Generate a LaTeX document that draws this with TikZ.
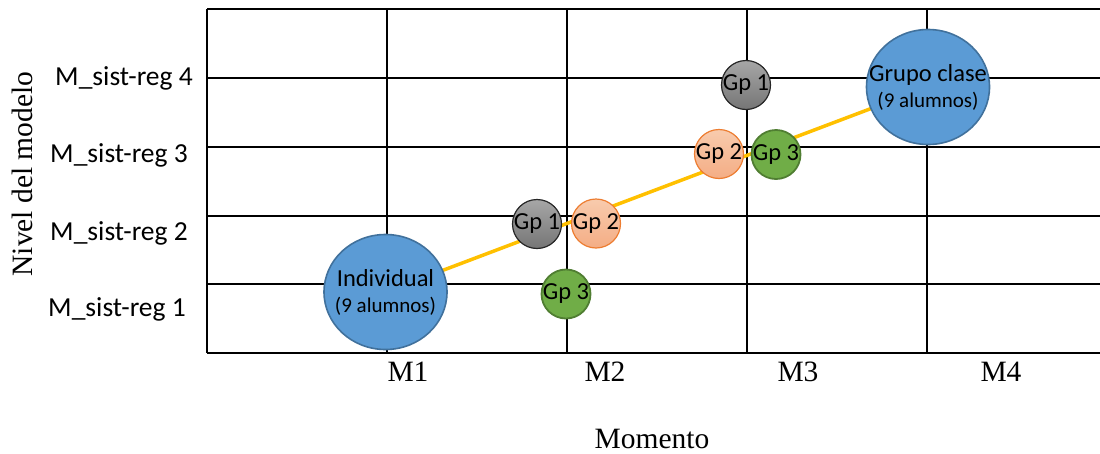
\documentclass[tikz,border=0pt]{standalone}
\usepackage{fontspec}
\setmainfont{Liberation Serif}
\newfontfamily\calibfont{Carlito}
\usetikzlibrary{backgrounds,shapes.geometric}
\definecolor{bubblue}{HTML}{5B9BD5}
\definecolor{bubblueline}{HTML}{41719C}
\definecolor{grtop}{HTML}{A6A6A6}
\definecolor{grbot}{HTML}{767676}
\definecolor{grline}{HTML}{262626}
\definecolor{ortop}{HTML}{F8CBAD}
\definecolor{orbot}{HTML}{F4AD85}
\definecolor{orline}{HTML}{ED7D31}
\definecolor{gnfill}{HTML}{70AD47}
\definecolor{gnline}{HTML}{507E32}
\definecolor{linkyellow}{HTML}{FFC000}
\tikzset{
  gridline/.style={line width=2pt, black},
  bigbub/.style={ellipse, minimum width=123pt, minimum height=115pt, inner sep=0pt,
    draw=bubblueline, line width=1.6pt, fill=bubblue},
  smallbub/.style={circle, minimum size=49pt, inner sep=0pt, line width=1.2pt},
  graybub/.style={smallbub, draw=grline, top color=grtop, bottom color=grbot},
  orangebub/.style={smallbub, draw=orline, top color=ortop, bottom color=orbot},
  greenbub/.style={smallbub, draw=gnline, line width=1.8pt, fill=gnfill},
  bubtext/.style={inner sep=0pt, align=center, font=\calibfont\fontsize{24.5}{27}\selectfont},
  ylab/.style={font=\calibfont\fontsize{27.5}{30}\selectfont},
  xlab/.style={inner sep=1pt, font=\fontsize{29.5}{32}\selectfont},
  linkline/.style={linkyellow, line width=3.5pt}
}
\begin{document}
\begin{tikzpicture}[x=1pt,y=-1pt]
\useasboundingbox (0,0) rectangle (1100,453);
% bubbles
\node[bigbub, label={[bubtext]center:Individual\\[-1pt]{\fontsize{21}{25}\selectfont(9 alumnos)}}] (ind) at (385.5,292) {};
\node[bigbub, label={[bubtext]center:Grupo clase\\[-1pt]{\fontsize{21}{25}\selectfont(9 alumnos)}}] (gc) at (928,87) {};
\node[graybub, label={[bubtext]center:Gp 1}] (g1a) at (537,224) {};
\node[orangebub, label={[bubtext]center:Gp 2}] (g2a) at (596,223.5) {};
\node[greenbub, label={[bubtext]center:Gp 3}] (g3a) at (566,294) {};
\node[graybub, label={[bubtext]center:Gp 1}] (g1b) at (746,85) {};
\node[orangebub, label={[bubtext]center:Gp 2}] (g2b) at (719,154) {};
\node[greenbub, label={[bubtext]center:Gp 3}] (g3b) at (776,154.5) {};
\begin{scope}[on background layer]
  \foreach \yy in {9,78,147,216,284,353} \draw[gridline] (207,\yy) -- (1100,\yy);
  \foreach \xx in {207,387,567,747,927} \draw[gridline] (\xx,9) -- (\xx,353);
  \draw[linkline] (ind.center) -- (gc.center);
\end{scope}
% axis labels
\node[ylab] (y4) at (124,78) {M\_sist-reg 4};
\node[ylab] (y3) at (119,155) {M\_sist-reg 3};
\node[ylab] (y2) at (119,233) {M\_sist-reg 2};
\node[ylab] (y1) at (117,309) {M\_sist-reg 1};
\node[xlab] (m1) at (408,372) {M1};
\node[xlab] (m2) at (605,372) {M2};
\node[xlab] (m3) at (798,372) {M3};
\node[xlab] (m4) at (1001,372) {M4};
\node[xlab] (xt) at (652,439) {Momento};
\node[xlab, rotate=90] (yt) at (22,174) {Nivel del modelo};
\end{tikzpicture}
\end{document}
